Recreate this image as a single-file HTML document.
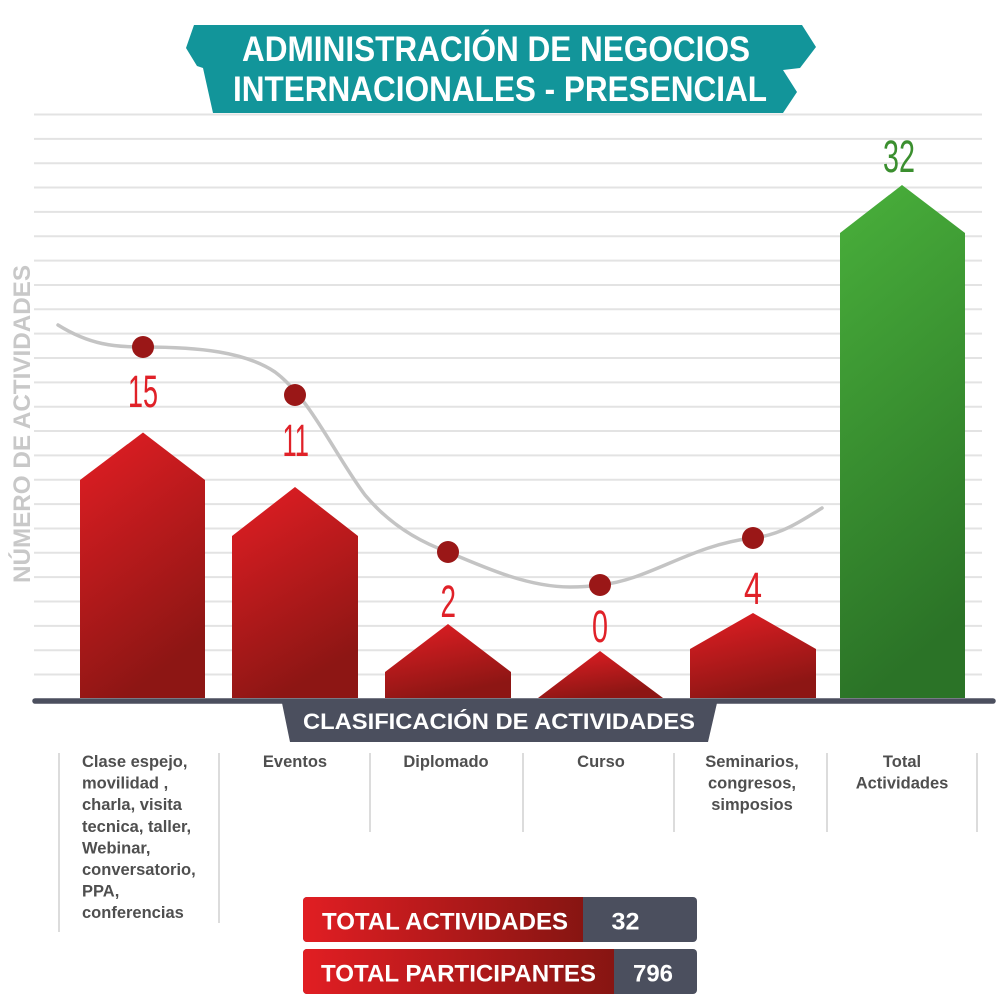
<!DOCTYPE html>
<html><head><meta charset="utf-8"><style>
html,body{margin:0;padding:0;background:#fff;}
svg{display:block;}
text{font-family:"Liberation Sans",Arial,sans-serif;}
</style></head><body>
<svg width="1000" height="1000" viewBox="0 0 1000 1000" xmlns="http://www.w3.org/2000/svg">
<defs>
<linearGradient id="rg" x1="0" y1="0" x2="0.35" y2="1">
<stop offset="0" stop-color="#e31e24"/><stop offset="1" stop-color="#8d1614"/>
</linearGradient>
<linearGradient id="gg" x1="0" y1="0" x2="0.2" y2="1">
<stop offset="0" stop-color="#49b03b"/><stop offset="1" stop-color="#2b7327"/>
</linearGradient>
<linearGradient id="hg" x1="0" y1="0" x2="1" y2="0">
<stop offset="0" stop-color="#e11e23"/><stop offset="1" stop-color="#871512"/>
</linearGradient>
</defs>
<rect width="1000" height="1000" fill="#fff"/>

<!-- gridlines -->
<g stroke="#e3e3e3" stroke-width="2">
<line x1="34" x2="982" y1="114.5" y2="114.5"/>
<line x1="34" x2="982" y1="138.85" y2="138.85"/>
<line x1="34" x2="982" y1="163.2" y2="163.2"/>
<line x1="34" x2="982" y1="187.55" y2="187.55"/>
<line x1="34" x2="982" y1="211.9" y2="211.9"/>
<line x1="34" x2="982" y1="236.25" y2="236.25"/>
<line x1="34" x2="982" y1="260.6" y2="260.6"/>
<line x1="34" x2="982" y1="284.95" y2="284.95"/>
<line x1="34" x2="982" y1="309.3" y2="309.3"/>
<line x1="34" x2="982" y1="333.65" y2="333.65"/>
<line x1="34" x2="982" y1="358" y2="358"/>
<line x1="34" x2="982" y1="382.35" y2="382.35"/>
<line x1="34" x2="982" y1="406.7" y2="406.7"/>
<line x1="34" x2="982" y1="431.05" y2="431.05"/>
<line x1="34" x2="982" y1="455.4" y2="455.4"/>
<line x1="34" x2="982" y1="479.75" y2="479.75"/>
<line x1="34" x2="982" y1="504.1" y2="504.1"/>
<line x1="34" x2="982" y1="528.45" y2="528.45"/>
<line x1="34" x2="982" y1="552.8" y2="552.8"/>
<line x1="34" x2="982" y1="577.15" y2="577.15"/>
<line x1="34" x2="982" y1="601.5" y2="601.5"/>
<line x1="34" x2="982" y1="625.85" y2="625.85"/>
<line x1="34" x2="982" y1="650.2" y2="650.2"/>
<line x1="34" x2="982" y1="674.55" y2="674.55"/>
</g>

<!-- title banner -->
<polygon fill="#12959a" points="194,25 802,25 816,47 800,68 783,70 797,92 783,113 213,113 203,68 197,66 186,48"/>
<text x="242" y="61" font-size="35" font-weight="bold" fill="#fff" textLength="508" lengthAdjust="spacingAndGlyphs">ADMINISTRACIÓN DE NEGOCIOS</text>
<text x="233" y="101" font-size="35" font-weight="bold" fill="#fff" textLength="534" lengthAdjust="spacingAndGlyphs">INTERNACIONALES - PRESENCIAL</text>

<!-- y axis title -->
<text transform="translate(30,424) rotate(-90)" text-anchor="middle" font-size="24" font-weight="bold" fill="#c8c8c8" textLength="318" lengthAdjust="spacingAndGlyphs">NÚMERO DE ACTIVIDADES</text>

<!-- bars -->
<polygon fill="url(#rg)" points="80,698 80,480 143,432.5 205,480 205,698"/>
<polygon fill="url(#rg)" points="232,698 232,536 295,487 358,536 358,698"/>
<polygon fill="url(#rg)" points="385,698 385,672 448,624 511,672 511,698"/>
<polygon fill="url(#rg)" points="538,698 600,651 663,698"/>
<polygon fill="url(#rg)" points="690,698 690,649 753,613 816,649 816,698"/>
<polygon fill="url(#gg)" points="840,698 840,233 902,185 965,233 965,698"/>

<!-- curve -->
<path d="M58,325 C90,345 115,347 143,347 C200,347 245,352 275,372 C310,398 335,455 365,495 C390,525 420,542 448,552 C490,570 530,587 570,587 C585,587 593,586 600,585 C650,580 690,545 753,538 C780,535 800,522 822,508" fill="none" stroke="#c4c4c4" stroke-width="3.5" stroke-linecap="round"/>
<g fill="#9a1717">
<circle cx="143" cy="347" r="11"/>
<circle cx="295" cy="395" r="11"/>
<circle cx="448" cy="552" r="11"/>
<circle cx="600" cy="585" r="11"/>
<circle cx="753" cy="538" r="11"/>
</g>

<!-- value labels -->
<g font-size="45" fill="#e02128">
<text x="128" y="407" textLength="30" lengthAdjust="spacingAndGlyphs">15</text>
<text x="282.5" y="456" textLength="26.5" lengthAdjust="spacingAndGlyphs">11</text>
<text x="440.5" y="617" textLength="15.5" lengthAdjust="spacingAndGlyphs">2</text>
<text x="592" y="642" textLength="16" lengthAdjust="spacingAndGlyphs">0</text>
<text x="744" y="604" textLength="18" lengthAdjust="spacingAndGlyphs">4</text>
</g>
<text x="883" y="172" font-size="45" fill="#3b8f2f" textLength="32" lengthAdjust="spacingAndGlyphs">32</text>

<!-- axis -->
<line x1="35" y1="701" x2="993" y2="701" stroke="#4b4f5e" stroke-width="5.5" stroke-linecap="round"/>

<!-- category banner -->
<polygon fill="#4b4f5e" points="282,703 717,703 708,742 290,742"/>
<text x="303" y="729" font-size="22" font-weight="bold" fill="#fff" textLength="392" lengthAdjust="spacingAndGlyphs">CLASIFICACIÓN  DE ACTIVIDADES</text>

<!-- dividers -->
<g stroke="#dcdcdc" stroke-width="2">
<line x1="59" y1="753" x2="59" y2="932"/>
<line x1="219" y1="753" x2="219" y2="923"/>
<line x1="370" y1="753" x2="370" y2="832"/>
<line x1="523" y1="753" x2="523" y2="832"/>
<line x1="674" y1="753" x2="674" y2="832"/>
<line x1="827" y1="753" x2="827" y2="832"/>
<line x1="977" y1="753" x2="977" y2="832"/>
</g>

<!-- category labels -->
<g font-size="16.5" font-weight="bold" fill="#4f4f4f">
<text x="82" y="767">Clase espejo,</text>
<text x="82" y="788.6">movilidad ,</text>
<text x="82" y="810.2">charla, visita</text>
<text x="82" y="831.8">tecnica, taller,</text>
<text x="82" y="853.4">Webinar,</text>
<text x="82" y="875">conversatorio,</text>
<text x="82" y="896.6">PPA,</text>
<text x="82" y="918.2">conferencias</text>
</g>
<g font-size="16.5" font-weight="bold" fill="#4f4f4f" text-anchor="middle">
<text x="295" y="767">Eventos</text>
<text x="446" y="767">Diplomado</text>
<text x="601" y="767">Curso</text>
<text x="752" y="767">Seminarios,</text>
<text x="752" y="788.6">congresos,</text>
<text x="752" y="810.2">simposios</text>
<text x="902" y="767">Total</text>
<text x="902" y="788.6">Actividades</text>
</g>

<!-- totals -->
<rect x="303" y="897" width="394" height="45" rx="4" fill="#4b4f5e"/>
<path d="M307,897 H583 V942 H307 A4,4 0 0 1 303,938 V901 A4,4 0 0 1 307,897 Z" fill="url(#hg)"/>
<text x="322" y="929.3" font-size="24.5" font-weight="bold" fill="#fff" textLength="246" lengthAdjust="spacingAndGlyphs">TOTAL ACTIVIDADES</text>
<text x="611.5" y="929.3" font-size="24.5" font-weight="bold" fill="#fff" textLength="28" lengthAdjust="spacingAndGlyphs">32</text>

<rect x="303" y="949" width="394" height="45" rx="4" fill="#4b4f5e"/>
<path d="M307,949 H614 V994 H307 A4,4 0 0 1 303,990 V953 A4,4 0 0 1 307,949 Z" fill="url(#hg)"/>
<text x="321" y="981.7" font-size="24.5" font-weight="bold" fill="#fff" textLength="275" lengthAdjust="spacingAndGlyphs">TOTAL PARTICIPANTES</text>
<text x="633" y="981.7" font-size="24.5" font-weight="bold" fill="#fff" textLength="40" lengthAdjust="spacingAndGlyphs">796</text>
</svg>
</body></html>
